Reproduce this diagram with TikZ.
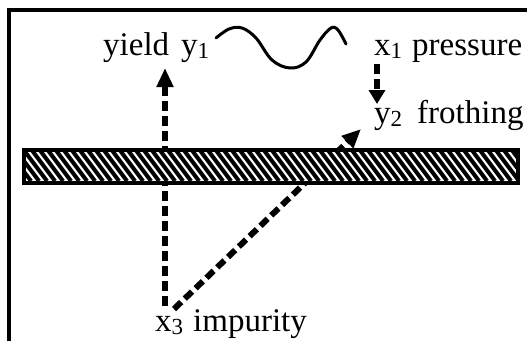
\documentclass[tikz,border=0pt]{standalone}
\usepackage{fontspec}
\setmainfont{Liberation Serif}
\usetikzlibrary{arrows.meta}
\newcommand{\mysub}[1]{\raisebox{-3.5pt}{\fontsize{23}{23}\selectfont #1}}
\begin{document}
\begin{tikzpicture}[x=1pt,y=-1pt,
  lbl/.style={font=\fontsize{33}{39}\selectfont, inner sep=0pt, anchor=base west},
  wave/.style={line width=3pt, line cap=round},
  dasharrow/.style={line width=6pt, dash pattern=on 10pt off 5pt, -{Triangle[length=19pt,width=16pt]}},
  shorthead/.style={-{Triangle[length=14pt,width=16pt]}},
  barline/.style={line width=2.5pt},
  stripe/.style={line width=4pt}]
\useasboundingbox (0,0) rectangle (527,341);
% frame
\draw[line width=4pt] (9,341) -- (9,10) -- (527,10);
% labels
\node[lbl] (yield) at (103,55) {yield};
\node[lbl] (y1) at (181,55) {y\mysub{1}};
\node[lbl] (x1) at (374,55) {x\mysub{1}};
\node[lbl] (pressure) at (412,55) {pressure};
\node[lbl] (y2) at (374,123) {y\mysub{2}};
\node[lbl] (frothing) at (417,123) {frothing};
\node[lbl] (x3) at (155,331) {x\mysub{3}};
\node[lbl] (impurity) at (193,331) {impurity};
% wave
\draw[wave] plot[smooth, tension=0.6] coordinates {(216,38) (229,29) (242,28) (256,38) (272,60) (290,68) (306,62) (320,40) (331,28) (338,30) (346,44)};
% connectors
\coordinate (a1s) at (165,306); \coordinate (a1e) at (165,68);
\coordinate (a2s) at (377,64);  \coordinate (a2e) at (377,104);
\coordinate (a3s) at (174,309); \coordinate (a3e) at (361,129);
\draw[dasharrow] (a1s) -- (a1e);
\draw[dasharrow, shorthead] (a2s) -- (a2e);
\draw[dasharrow] (a3s) -- (a3e);
% hatched bar
\node[draw, barline, fill=white, minimum width=493pt, minimum height=32pt, inner sep=0pt, anchor=north west] (bar) at (23,149) {};
\begin{scope}
  \clip (bar.north west) rectangle (bar.south east);
  \foreach \i in {-4,...,62} \draw[stripe] ({23+\i*8},149) -- ({47+\i*8},181);
\end{scope}
\draw[barline] (bar.north west) rectangle (bar.south east);
\end{tikzpicture}
\end{document}
